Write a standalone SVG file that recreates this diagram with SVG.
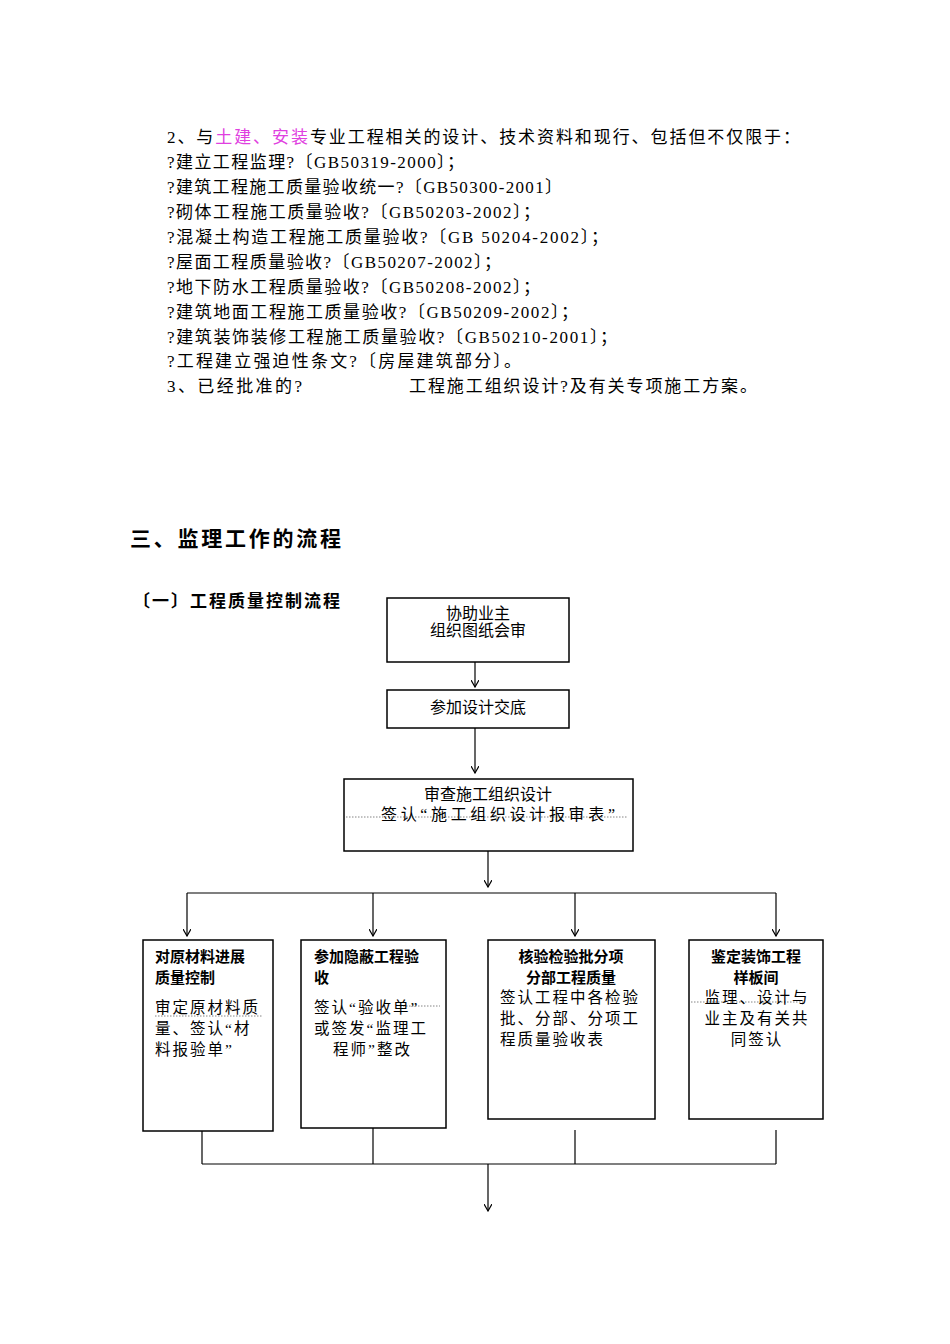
<svg xmlns="http://www.w3.org/2000/svg" width="950" height="1344" viewBox="0 0 950 1344">
<defs>
<style>
text{font-family:"Liberation Serif","Noto Sans CJK SC",serif;fill:#000}
.t{font-size:16px}
.bd{font-size:17px}
.b{font-size:15px;font-family:"Liberation Sans","Noto Sans CJK SC",sans-serif;font-weight:bold}
.p{font-size:15.5px;letter-spacing:2px}
.box{fill:#fff;stroke:#000;stroke-width:1.5}
.ln{stroke:#000;stroke-width:1.2;fill:none}
.dot{stroke:#666;stroke-width:0.8;stroke-dasharray:1.5 1.5}
</style>
<marker id="a" markerWidth="8" markerHeight="8" refX="7" refY="4" orient="auto" markerUnits="userSpaceOnUse"><path d="M0,0 L7,4 L0,8" fill="none" stroke="#000" stroke-width="1.2"/></marker>
</defs>
<g id="body" class="bd">
<text x="167" y="143" textLength="633" lengthAdjust="spacing">2、与<tspan fill="#e040e0">土建、安装</tspan>专业工程相关的设计、技术资料和现行、包括但不仅限于：</text>
<text x="167" y="168" textLength="297" lengthAdjust="spacing">?建立工程监理?〔GB50319-2000〕；</text>
<text x="167" y="193" textLength="395" lengthAdjust="spacing">?建筑工程施工质量验收统一?〔GB50300-2001〕</text>
<text x="167" y="218" textLength="373" lengthAdjust="spacing">?砌体工程施工质量验收?〔GB50203-2002〕；</text>
<text x="167" y="243" textLength="441" lengthAdjust="spacing">?混凝土构造工程施工质量验收?〔GB 50204-2002〕；</text>
<text x="167" y="268" textLength="334" lengthAdjust="spacing">?屋面工程质量验收?〔GB50207-2002〕；</text>
<text x="167" y="293" textLength="373" lengthAdjust="spacing">?地下防水工程质量验收?〔GB50208-2002〕；</text>
<text x="167" y="318" textLength="411" lengthAdjust="spacing">?建筑地面工程施工质量验收?〔GB50209-2002〕；</text>
<text x="167" y="343" textLength="450" lengthAdjust="spacing">?建筑装饰装修工程施工质量验收?〔GB50210-2001〕；</text>
<text x="167" y="367" textLength="354" lengthAdjust="spacing">?工程建立强迫性条文?〔房屋建筑部分〕。</text>
<text x="167" y="392" textLength="135" lengthAdjust="spacing">3、已经批准的?</text>
<text x="409" y="392" textLength="348" lengthAdjust="spacing">工程施工组织设计?及有关专项施工方案。</text>
</g>
<text x="130" y="546" textLength="211" lengthAdjust="spacing" style="font-size:21px;font-weight:bold;font-family:'Liberation Sans','Noto Sans CJK SC',sans-serif">三、监理工作的流程</text>
<text x="133" y="607" class="b" textLength="207" lengthAdjust="spacing" style="font-size:17px">〔一〕工程质量控制流程</text>
<g id="n1"><rect class="box" x="387" y="598" width="182" height="64"/><text class="t" x="478" y="619" text-anchor="middle">协助业主</text><text class="t" x="478" y="636" text-anchor="middle">组织图纸会审</text></g>
<g id="n2"><rect class="box" x="387" y="690" width="182" height="38"/><text class="t" x="478" y="713" text-anchor="middle">参加设计交底</text></g>
<g id="n3"><rect class="box" x="344" y="779" width="289" height="72"/><text class="t" x="488" y="800" text-anchor="middle">审查施工组织设计</text><line class="dot" x1="346" y1="817" x2="628" y2="817"/><text class="t" x="381" y="820" textLength="234" lengthAdjust="spacing">签认“施工组织设计报审表”</text></g>
<g id="nA"><rect class="box" x="143" y="940" width="130" height="191"/><text class="b" x="155" y="962">对原材料进展</text><text class="b" x="155" y="983">质量控制</text><line class="dot" x1="155" y1="1016" x2="263" y2="1016"/><text class="p" x="155" y="1013">审定原材料质</text><text class="p" x="155" y="1034">量、签认“材</text><text class="p" x="155" y="1055">料报验单”</text></g>
<g id="nB"><rect class="box" x="301" y="940" width="145" height="188"/><text class="b" x="314" y="962">参加隐蔽工程验</text><text class="b" x="314" y="983">收</text><line class="dot" x1="400" y1="1006" x2="440" y2="1006"/><text class="p" x="314" y="1013">签认“验收单”</text><text class="p" x="314" y="1034">或签发“监理工</text><text class="p" x="333" y="1055">程师”整改</text></g>
<g id="nC"><rect class="box" x="488" y="940" width="167" height="179"/><text class="b" x="571" y="962" text-anchor="middle">核验检验批分项</text><text class="b" x="571" y="983" text-anchor="middle">分部工程质量</text><text class="p" x="500" y="1003">签认工程中各检验</text><text class="p" x="500" y="1024">批、分部、分项工</text><text class="p" x="500" y="1045">程质量验收表</text></g>
<g id="nD"><rect class="box" x="689" y="940" width="134" height="179"/><text class="b" x="756" y="962" text-anchor="middle">鉴定装饰工程</text><text class="b" x="756" y="983" text-anchor="middle">样板间</text><line class="dot" x1="691" y1="1002" x2="805" y2="1002"/><text class="p" x="757" y="1003" text-anchor="middle">监理、设计与</text><text class="p" x="757" y="1024" text-anchor="middle">业主及有关共</text><text class="p" x="757" y="1045" text-anchor="middle">同签认</text></g>
<g id="connectors" class="ln">
<line x1="475" y1="662" x2="475" y2="687" marker-end="url(#a)"/>
<line x1="475" y1="728" x2="475" y2="773" marker-end="url(#a)"/>
<line x1="488" y1="851" x2="488" y2="887" marker-end="url(#a)"/>
<line x1="187" y1="893" x2="776" y2="893"/>
<line x1="187" y1="893" x2="187" y2="936" marker-end="url(#a)"/>
<line x1="373" y1="893" x2="373" y2="936" marker-end="url(#a)"/>
<line x1="575" y1="893" x2="575" y2="936" marker-end="url(#a)"/>
<line x1="776" y1="893" x2="776" y2="936" marker-end="url(#a)"/>
<line x1="202" y1="1131" x2="202" y2="1164"/>
<line x1="373" y1="1128" x2="373" y2="1164"/>
<line x1="575" y1="1130" x2="575" y2="1164"/>
<line x1="776" y1="1130" x2="776" y2="1164"/>
<line x1="202" y1="1164" x2="776" y2="1164"/>
<line x1="488" y1="1164" x2="488" y2="1211" marker-end="url(#a)"/>
</g>
</svg>
